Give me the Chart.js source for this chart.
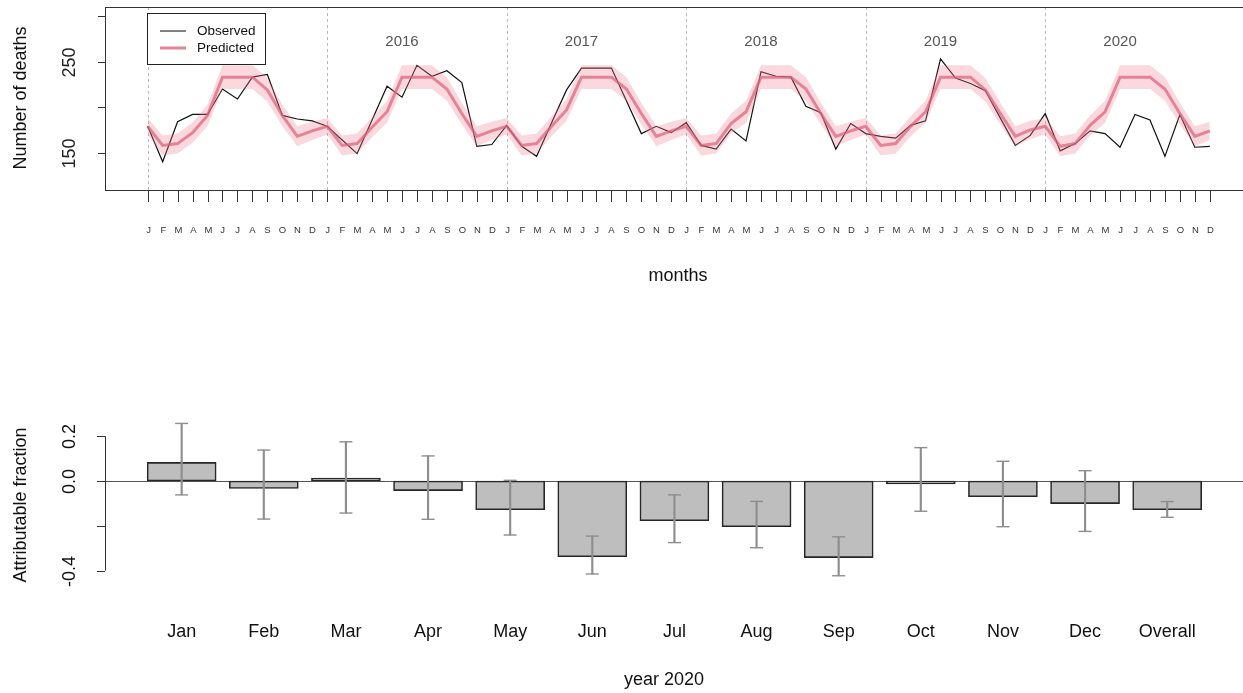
<!DOCTYPE html>
<html>
<head>
<meta charset="utf-8">
<script src="https://cdn.jsdelivr.net/npm/chart.js@4/dist/chart.umd.min.js"></script>
<style>
  body { margin: 0; background: #fff; }
  #wrap { position: relative; width: 1243px; height: 693px; }
  #wrap canvas { position: absolute; left: 0; top: 0; }
</style>
</head>
<body>
<div id="wrap">
  <canvas id="bottom" width="1243" height="693"></canvas>
  <canvas id="top" width="1243" height="693"></canvas>
</div>
<script>
// ---- top panel: monthly deaths 2015-2020 ----
const monthLetters = ['J','F','M','A','M','J','J','A','S','O','N','D'];
const yearLabels = ['2016','2017','2018','2019','2020'];
const deathTicks = [150, 200, 250, 300];
const deathTickLabels = ['150', '', '250', ''];

const observed = [
  179, 140, 184, 192, 192, 220, 209, 233, 236, 191, 187, 185,
  179, 164, 149, 186, 223, 211, 246, 234, 240, 227, 157, 159,
  180, 157, 146, 183, 219, 243, 243, 243, 207, 171, 179, 172,
  183, 158, 154, 176, 163, 239, 234, 233, 201, 194, 154, 182,
  171, 168, 166, 180, 185, 253, 232, 226, 218, 188, 158, 169,
  193, 152, 160, 174, 171, 156, 192, 186, 146, 192, 156, 157
];
const predicted = [
  179, 158, 160, 172, 191, 233, 233, 233, 219, 191, 168, 174,
  179, 158, 160, 178, 195, 233, 233, 233, 220, 193, 168, 174,
  179, 158, 160, 179, 197, 233, 233, 233, 220, 193, 168, 174,
  179, 158, 160, 182, 195, 233, 233, 233, 220, 193, 168, 174,
  179, 158, 160, 179, 195, 233, 233, 233, 219, 193, 168, 175,
  179, 157, 160, 180, 195, 233, 233, 233, 220, 193, 168, 174
];
const predLower = [
  170, 147, 149, 161, 179, 220, 220, 220, 206, 179, 157, 164,
  170, 147, 149, 167, 183, 220, 220, 220, 207, 181, 157, 164,
  170, 147, 149, 168, 185, 220, 220, 220, 207, 181, 157, 164,
  170, 147, 149, 171, 183, 220, 220, 220, 207, 181, 157, 164,
  170, 147, 149, 168, 183, 220, 220, 220, 206, 181, 157, 165,
  170, 146, 149, 169, 183, 220, 220, 220, 207, 181, 157, 164
];
const predUpper = [
  188, 169, 171, 183, 203, 246, 246, 246, 232, 203, 179, 184,
  188, 169, 171, 189, 207, 246, 246, 246, 233, 205, 179, 184,
  188, 169, 171, 190, 209, 246, 246, 246, 233, 205, 179, 184,
  188, 169, 171, 193, 207, 246, 246, 246, 233, 205, 179, 184,
  188, 169, 171, 190, 207, 246, 246, 246, 232, 205, 179, 185,
  188, 168, 171, 191, 207, 246, 246, 246, 233, 205, 179, 184
];

// ---- bottom panel: attributable fraction, 2020 ----
const afMonths = ['Jan','Feb','Mar','Apr','May','Jun','Jul','Aug','Sep','Oct','Nov','Dec','Overall'];
const afValue = [0.083, -0.033, 0.003, -0.043, -0.128, -0.338, -0.177, -0.204, -0.342, -0.007, -0.070, -0.101, -0.128];
const afLow   = [-0.062, -0.170, -0.143, -0.171, -0.241, -0.415, -0.275, -0.298, -0.423, -0.135, -0.204, -0.225, -0.162];
const afHigh  = [0.257, 0.138, 0.175, 0.112, 0.003, -0.246, -0.062, -0.091, -0.249, 0.149, 0.088, 0.046, -0.092];
const afTicks = [0.2, 0.0, -0.2, -0.4];
const afTickLabels = ['0.2', '0.0', '', '-0.4'];

const FONT = '"Liberation Sans", Arial, Helvetica, sans-serif';
const predCol = 'rgba(214,84,108,0.72)';
const bandCol = 'rgba(240,125,145,0.30)';
const errCol = '#8e8e8e';

Chart.defaults.font.family = FONT;

const xy = arr => arr.map((v, i) => ({ x: i + 1, y: v }));

function vtext(ctx, txt, x, y, size) {
  ctx.save();
  ctx.translate(x, y);
  ctx.rotate(-Math.PI / 2);
  ctx.font = size + 'px ' + FONT;
  ctx.textAlign = 'center';
  ctx.textBaseline = 'middle';
  ctx.fillText(txt, 0, 0);
  ctx.restore();
}
function seg(ctx, x1, y1, x2, y2) {
  ctx.beginPath(); ctx.moveTo(x1, y1); ctx.lineTo(x2, y2); ctx.stroke();
}

const topDecor = {
  id: 'topDecor',
  beforeDatasetsDraw(chart) {
    const { ctx, chartArea: a, scales: { x } } = chart;
    ctx.save();
    ctx.strokeStyle = '#b8b8b8';
    ctx.lineWidth = 1;
    ctx.setLineDash([3, 3]);
    for (let k = 0; k <= yearLabels.length; k++) {
      const px = Math.round(x.getPixelForValue(12 * k + 1)) + 0.5;
      seg(ctx, px, a.top, px, a.bottom);
    }
    ctx.restore();
  },
  afterDraw(chart) {
    const { ctx, chartArea: a, scales: { x, y } } = chart;
    ctx.save();
    ctx.strokeStyle = '#333';
    ctx.fillStyle = '#222';
    ctx.lineWidth = 1;
    // frame
    ctx.strokeRect(a.left + 0.5, a.top + 0.5, chart.width + 20, a.bottom - a.top);
    // y axis
    const yTop = y.getPixelForValue(deathTicks[deathTicks.length - 1]);
    const yBot = y.getPixelForValue(deathTicks[0]);
    seg(ctx, a.left + 0.5, yTop, a.left + 0.5, yBot);
    deathTicks.forEach((t, i) => {
      const py = Math.round(y.getPixelForValue(t)) + 0.5;
      seg(ctx, a.left - 7, py, a.left, py);
      if (deathTickLabels[i]) vtext(ctx, deathTickLabels[i], 70, py, 18);
    });
    // x axis ticks and month letters
    ctx.font = '9.5px ' + FONT;
    ctx.textAlign = 'center';
    ctx.textBaseline = 'middle';
    for (let i = 1; i <= observed.length; i++) {
      const px = Math.round(x.getPixelForValue(i)) + 0.5;
      seg(ctx, px, a.bottom + 1, px, a.bottom + 12);
      ctx.fillStyle = '#333';
      ctx.fillText(monthLetters[(i - 1) % 12], px, 230);
    }
    // year labels
    ctx.fillStyle = '#555';
    ctx.font = '15px ' + FONT;
    yearLabels.forEach((yr, k) => {
      ctx.fillText(yr, x.getPixelForValue(12 * (k + 1) + 6), 42);
    });
    // axis titles
    ctx.fillStyle = '#111';
    ctx.font = '18px ' + FONT;
    ctx.fillText('months', 678, 276);
    vtext(ctx, 'Number of deaths', 21, 98, 18);
    // legend
    ctx.fillStyle = '#fff';
    ctx.fillRect(147, 13.5, 119, 51);
    ctx.strokeStyle = '#222';
    ctx.strokeRect(147.5, 13.5, 118, 51);
    ctx.strokeStyle = '#000';
    ctx.lineWidth = 1;
    seg(ctx, 160, 31, 186, 31);
    ctx.strokeStyle = predCol;
    ctx.lineWidth = 3;
    seg(ctx, 160, 48, 186, 48);
    ctx.fillStyle = '#111';
    ctx.font = '13.5px ' + FONT;
    ctx.textAlign = 'left';
    ctx.fillText('Observed', 197, 31);
    ctx.fillText('Predicted', 197, 48);
    ctx.restore();
  }
};

new Chart(document.getElementById('top'), {
  type: 'line',
  data: {
    datasets: [
      { data: xy(predLower), borderWidth: 0, pointRadius: 0, fill: false },
      { data: xy(predUpper), borderWidth: 0, pointRadius: 0, fill: '-1', backgroundColor: bandCol },
      { data: xy(predicted), borderColor: predCol, borderWidth: 3, pointRadius: 0, fill: false },
      { data: xy(observed), borderColor: '#111', borderWidth: 1.2, pointRadius: 0, fill: false }
    ]
  },
  options: {
    responsive: false,
    animation: false,
    events: [],
    layout: { padding: { left: 105, top: 7, right: 0, bottom: 503 } },
    plugins: { legend: { display: false }, tooltip: { enabled: false } },
    scales: {
      x: { type: 'linear', display: false, min: -1.854, max: 74.22 },
      y: { type: 'linear', display: false, min: 109, max: 310.1 }
    }
  },
  plugins: [topDecor]
});

const bottomDecor = {
  id: 'bottomDecor',
  beforeDatasetsDraw(chart) {
    const { ctx, chartArea: a, scales: { y } } = chart;
    ctx.save();
    ctx.strokeStyle = '#555';
    ctx.lineWidth = 1;
    const py = Math.round(y.getPixelForValue(0)) + 0.5;
    seg(ctx, a.left, py, chart.width, py);
    ctx.restore();
  },
  afterDraw(chart) {
    const { ctx, chartArea: a, scales: { x, y } } = chart;
    ctx.save();
    ctx.strokeStyle = '#333';
    ctx.fillStyle = '#111';
    ctx.lineWidth = 1;
    seg(ctx, a.left + 0.5, y.getPixelForValue(afTicks[0]), a.left + 0.5, y.getPixelForValue(afTicks[afTicks.length - 1]));
    afTicks.forEach((t, i) => {
      const py = Math.round(y.getPixelForValue(t)) + 0.5;
      seg(ctx, a.left - 8, py, a.left, py);
      if (afTickLabels[i]) vtext(ctx, afTickLabels[i], 70, py, 18);
    });
    ctx.font = '18px ' + FONT;
    ctx.textAlign = 'center';
    ctx.textBaseline = 'middle';
    afMonths.forEach((m, i) => ctx.fillText(m, x.getPixelForValue(i + 1), 632));
    ctx.fillText('year 2020', 664, 680);
    vtext(ctx, 'Attributable fraction', 21, 505, 18);
    ctx.restore();
  }
};

const capPoints = [];
afLow.forEach((v, i) => { capPoints.push({ x: i + 1, y: v }); capPoints.push({ x: i + 1, y: afHigh[i] }); });

new Chart(document.getElementById('bottom'), {
  type: 'bar',
  data: {
    datasets: [
      {
        type: 'bar', order: 2, grouped: false,
        data: xy(afValue),
        backgroundColor: '#bebebe', borderColor: '#262626', borderWidth: 1.6,
        borderSkipped: false, barThickness: 69, minBarLength: 3
      },
      {
        type: 'bar', order: 1, grouped: false,
        data: afLow.map((v, i) => ({ x: i + 1, y: [v, afHigh[i]] })),
        backgroundColor: errCol, borderWidth: 0, barThickness: 1.5
      },
      {
        type: 'line', order: 0, showLine: false,
        data: capPoints,
        pointStyle: 'line', pointRadius: 6.5, borderColor: errCol, borderWidth: 1.4
      }
    ]
  },
  options: {
    responsive: false,
    animation: false,
    events: [],
    layout: { padding: { left: 105, top: 410, right: 0, bottom: 93 } },
    plugins: { legend: { display: false }, tooltip: { enabled: false } },
    scales: {
      x: { type: 'linear', display: false, offset: false, min: 0.0665, max: 13.827 },
      y: { type: 'linear', display: false, min: -0.53125, max: 0.317 }
    }
  },
  plugins: [bottomDecor]
});
</script>
</body>
</html>
